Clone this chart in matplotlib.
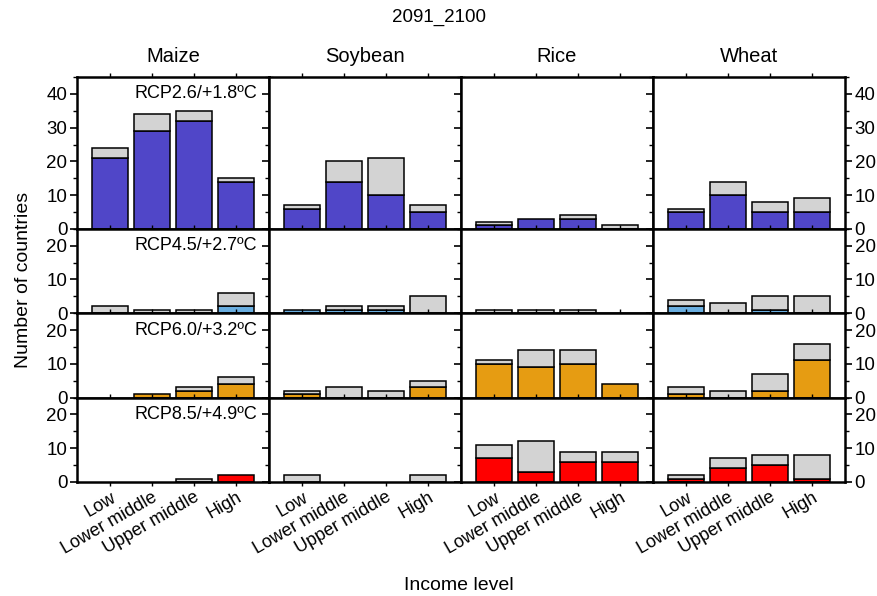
import numpy as np
import matplotlib
matplotlib.use('Agg')
import matplotlib.pyplot as plt
from matplotlib.ticker import MultipleLocator

plt.rcParams['font.family'] = ['Liberation Sans', 'DejaVu Sans']

crops = ['Maize', 'Soybean', 'Rice', 'Wheat']
income = ['Low', 'Lower middle', 'Upper middle', 'High']
scenarios = ['RCP2.6/+1.8ºC', 'RCP4.5/+2.7ºC', 'RCP6.0/+3.2ºC', 'RCP8.5/+4.9ºC']
colors = ['#5046c8', '#6aaee0', '#e69c12', '#ff0000']
gray = '#d3d3d3'

# coloured part, one row per crop (Maize, Soybean, Rice, Wheat)
sig_rcp26 = [[21, 29, 32, 14], [6, 14, 10, 5], [1, 3, 3, 0], [5, 10, 5, 5]]
tot_rcp26 = [[24, 34, 35, 15], [7, 20, 21, 7], [2, 3, 4, 1], [6, 14, 8, 9]]
sig_rcp45 = [[0, 0, 0, 2], [1, 1, 1, 0], [0, 0, 0, 0], [2, 0, 1, 0]]
tot_rcp45 = [[2, 1, 1, 6], [1, 2, 2, 5], [1, 1, 1, 0], [4, 3, 5, 5]]
sig_rcp60 = [[0, 1, 2, 4], [1, 0, 0, 3], [10, 9, 10, 4], [1, 0, 2, 11]]
tot_rcp60 = [[0, 1, 3, 6], [2, 3, 2, 5], [11, 14, 14, 4], [3, 2, 7, 16]]
sig_rcp85 = [[0, 0, 0, 2], [0, 0, 0, 0], [7, 3, 6, 6], [1, 4, 5, 1]]
tot_rcp85 = [[0, 0, 1, 2], [2, 0, 0, 2], [11, 12, 9, 9], [2, 7, 8, 8]]

sig_all = [sig_rcp26, sig_rcp45, sig_rcp60, sig_rcp85]
tot_all = [tot_rcp26, tot_rcp45, tot_rcp60, tot_rcp85]
ymax = [45, 25, 25, 25]

fig = plt.figure(figsize=(8.78, 5.96), dpi=100)
gs = fig.add_gridspec(4, 4, height_ratios=ymax, hspace=0, wspace=0,
                      left=0.0877, right=0.9624, top=0.8708, bottom=0.1913)

x = np.arange(len(income))
for r in range(4):
    for c in range(4):
        ax = fig.add_subplot(gs[r, c])
        sig = np.array(sig_all[r][c])
        tot = np.array(tot_all[r][c])
        for i in range(len(x)):
            if sig[i] > 0:
                ax.bar(x[i], sig[i], width=0.86, color=colors[r],
                       edgecolor='black', linewidth=1.1, zorder=2)
            if tot[i] > sig[i]:
                ax.bar(x[i], tot[i] - sig[i], bottom=sig[i], width=0.86,
                       color=gray, edgecolor='black', linewidth=1.1, zorder=2)
        ax.set_xlim(-0.79, 3.79)
        ax.set_ylim(0, ymax[r])
        ax.set_xticks(x)
        ax.yaxis.set_major_locator(MultipleLocator(10))
        ax.yaxis.set_minor_locator(MultipleLocator(5))
        for s in ax.spines.values():
            s.set_linewidth(1.8)
            s.set_zorder(3)
        ax.tick_params(axis='x', direction='out', length=3, width=1.0,
                       top=True, bottom=True)
        ax.tick_params(axis='y', which='major', direction='out', length=5, width=1.2,
                       left=True, right=True)
        ax.tick_params(axis='y', which='minor', direction='out', length=3, width=1.0,
                       left=True, right=True)
        ax.tick_params(labelsize=13.5, pad=2)
        ax.tick_params(labelleft=(c == 0), labelright=(c == 3),
                       labelbottom=(r == 3))
        if r == 0 and c == 0:
            pass
        if r == 3:
            ax.set_xticklabels(income, rotation=30, ha='right',
                               rotation_mode='anchor', fontsize=13)
        if r == 0:
            ax.set_title(crops[c], fontsize=14.5, pad=11)
        if c == 0:
            ax.text(0.94, 0.89 if r == 0 else 0.8, scenarios[r],
                    transform=ax.transAxes, ha='right', va='center',
                    fontsize=13)

fig.text(0.5, 0.97, '2091_2100', ha='center', va='center', fontsize=13.5)
fig.text(0.523, 0.018, 'Income level', ha='center', va='center', fontsize=14)
fig.text(0.027, 0.53, 'Number of countries', ha='center', va='center',
         rotation=90, fontsize=14)

plt.savefig('out.png', dpi=100)
